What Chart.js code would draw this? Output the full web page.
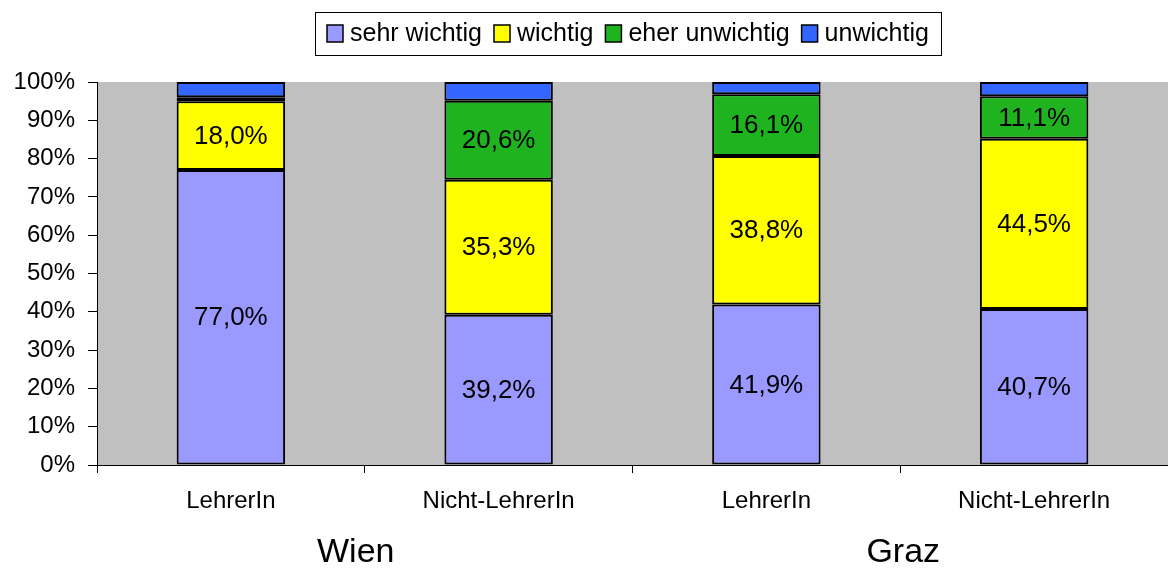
<!DOCTYPE html>
<html>
<head>
<meta charset="utf-8">
<script src="https://cdn.jsdelivr.net/npm/chart.js@4/dist/chart.umd.min.js"></script>
<style>
  html, body { margin: 0; padding: 0; background: #fff; }
  #wrap { width: 1168px; height: 568px; }
</style>
</head>
<body>
<div id="wrap"><canvas id="myChart" width="1168" height="568"></canvas></div>
<script>
var categories = ['LehrerIn', 'Nicht-LehrerIn', 'LehrerIn', 'Nicht-LehrerIn'];
var groups = ['Wien', 'Graz'];
var sehrWichtig = [77.0, 39.2, 41.9, 40.7];
var wichtig = [18.0, 35.3, 38.8, 44.5];
var eherUnwichtig = [1.0, 20.6, 16.1, 11.1];
var unwichtig = [4.0, 4.9, 3.2, 3.7];

var FONT = '"Liberation Sans", Arial, sans-serif';

var plotBg = {
    id: 'plotBg',
    beforeDraw: function(chart) {
        var a = chart.chartArea, ctx = chart.ctx;
        ctx.save();
        ctx.fillStyle = '#C0C0C0';
        ctx.fillRect(a.left, a.top, a.right - a.left, a.bottom - a.top);
        ctx.restore();
    }
};

var labelsPlugin = {
    id: 'labelsPlugin',
    afterDraw: function(chart) {
        var ctx = chart.ctx;
        ctx.save();
        ctx.font = '26px ' + FONT;
        ctx.fillStyle = '#000';
        ctx.textAlign = 'center';
        ctx.textBaseline = 'middle';
        chart.data.datasets.forEach(function(ds, i) {
            var meta = chart.getDatasetMeta(i);
            meta.data.forEach(function(bar, j) {
                var v = ds.data[j];
                if (v < 10) return;
                var txt = v.toFixed(1).replace('.', ',') + '%';
                ctx.fillText(txt, bar.x, (bar.y + bar.base) / 2 + 1);
            });
        });

        // group labels under the categories (slightly off-centre like the original)
        var xs = chart.scales.x;
        var nudge = [-9, 3];
        ctx.font = '34px ' + FONT;
        for (var g = 0; g < groups.length; g++) {
            var cx = xs.getPixelForValue(g * 2 + 0.5) + nudge[g];
            ctx.fillText(groups[g], cx, 553);
        }

        // legend with frame
        ctx.font = '25px ' + FONT;
        ctx.textAlign = 'left';
        ctx.strokeStyle = '#000';
        ctx.lineWidth = 1;
        ctx.strokeRect(315.5, 12.5, 626, 43);
        var x = 327;
        chart.data.datasets.forEach(function(ds) {
            ctx.fillStyle = ds.backgroundColor;
            ctx.fillRect(x, 25, 16, 17);
            ctx.lineWidth = 1.5;
            ctx.strokeRect(x, 25, 16, 17);
            ctx.fillStyle = '#000';
            ctx.fillText(ds.label, x + 23, 34);
            x += 23 + ctx.measureText(ds.label).width + 12;
        });
        ctx.restore();
    }
};

var ctx = document.getElementById('myChart').getContext('2d');
var myChart = new Chart(ctx, {
    type: 'bar',
    data: {
        labels: categories,
        datasets: [{
            label: 'sehr wichtig',
            data: sehrWichtig,
            backgroundColor: '#9999FF'
        }, {
            label: 'wichtig',
            data: wichtig,
            backgroundColor: '#FFFF00'
        }, {
            label: 'eher unwichtig',
            data: eherUnwichtig,
            backgroundColor: '#1FB41F'
        }, {
            label: 'unwichtig',
            data: unwichtig,
            backgroundColor: '#3366FF'
        }]
    },
    options: {
        responsive: false,
        animation: false,
        layout: { padding: { top: 82, right: 0, left: 0, bottom: 0 } },
        datasets: {
            bar: {
                borderColor: '#000',
                borderWidth: 2,
                borderSkipped: false,
                categoryPercentage: 1,
                barPercentage: 0.405
            }
        },
        plugins: {
            legend: { display: false },
            tooltip: { enabled: false }
        },
        scales: {
            x: {
                stacked: true,
                offset: true,
                grid: {
                    offset: true,
                    drawOnChartArea: false,
                    color: '#000',
                    tickLength: 8
                },
                border: { color: '#000', width: 1 },
                ticks: {
                    color: '#000',
                    font: { size: 24, family: FONT },
                    padding: 14
                },
                afterFit: function(s) { s.height = 103; }
            },
            y: {
                stacked: true,
                min: 0,
                max: 100,
                ticks: {
                    stepSize: 10,
                    color: '#000',
                    font: { size: 24, family: FONT },
                    padding: 13,
                    callback: function(v) { return v + '%'; }
                },
                grid: {
                    drawOnChartArea: false,
                    color: '#000',
                    tickLength: 9
                },
                border: { color: '#000', width: 1 },
                afterFit: function(s) { s.width = 97; }
            }
        }
    },
    plugins: [plotBg, labelsPlugin]
});
</script>
</body>
</html>
